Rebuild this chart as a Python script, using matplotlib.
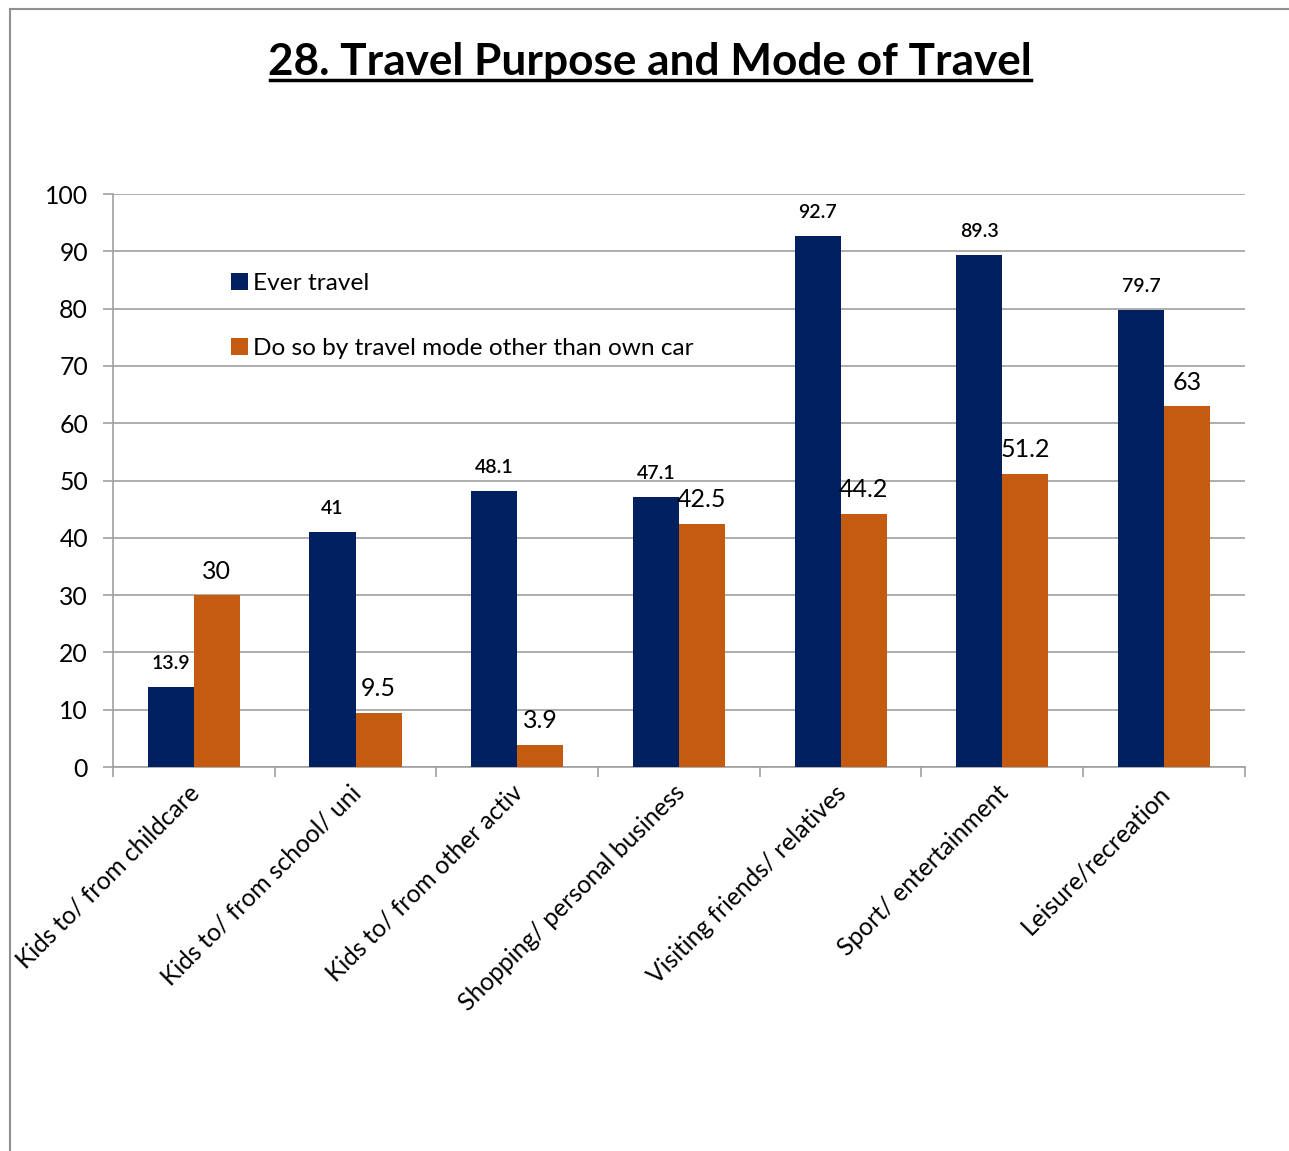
import matplotlib.pyplot as plt
import numpy as np
from matplotlib.lines import Line2D
from matplotlib.transforms import ScaledTranslation

plt.rcParams['font.family'] = ['Lato', 'DejaVu Sans']

categories = ['Kids to/ from childcare', 'Kids to/ from school/ uni', 'Kids to/ from other activ',
              'Shopping/ personal business', 'Visiting friends/ relatives', 'Sport/ entertainment',
              'Leisure/recreation']
ever_travel = [13.9, 41, 48.1, 47.1, 92.7, 89.3, 79.7]
other_mode = [30, 9.5, 3.9, 42.5, 44.2, 51.2, 63]
series_names = ['Ever travel', 'Do so by travel mode other than own car']

navy = '#002060'
orange = '#C55A11'
grid_gray = '#A0A0A0'

fig = plt.figure(figsize=(12.89, 11.51), dpi=100)
ax = fig.add_axes([0.0877, 0.3336, 0.878, 0.4978])

x = np.arange(len(categories))
w = 0.285
b1 = ax.bar(x - w / 2, ever_travel, w, color=navy, label=series_names[0], zorder=3)
b2 = ax.bar(x + w / 2, other_mode, w, color=orange, label=series_names[1], zorder=3)

ax.bar_label(b1, labels=[f'{v:g}' for v in ever_travel], padding=11, fontsize=14, fontweight='semibold')
ax.bar_label(b2, labels=[f'{v:g}' for v in other_mode], padding=9, fontsize=18)

ax.set_xlim(-0.5, len(categories) - 0.5)
ax.set_ylim(0, 100)
ax.set_yticks(range(0, 101, 10))
ax.yaxis.grid(True, color=grid_gray, linewidth=1.2, zorder=0)

ax.set_xticks(np.arange(len(categories) + 1) - 0.5, minor=False)
ax.set_xticklabels([])
ax.set_xticks(x, minor=True)
ax.set_xticklabels(categories, minor=True, rotation=45, ha='right', va='top',
                   rotation_mode='anchor', fontsize=17.7)
ax.tick_params(axis='x', which='minor', length=0, pad=10)
ax.tick_params(axis='x', which='major', length=7, color=grid_gray, width=1.2)
ax.tick_params(axis='y', length=7, color=grid_gray, width=1.2, labelsize=17.8, pad=11)
shift = ScaledTranslation(-6 / 100, 0, fig.dpi_scale_trans)
for lbl in ax.get_xticklabels(minor=True):
    lbl.set_transform(lbl.get_transform() + shift)

for s in ['top', 'right']:
    ax.spines[s].set_visible(False)
for s in ['left', 'bottom']:
    ax.spines[s].set_color(grid_gray)
    ax.spines[s].set_linewidth(1.2)

ax.legend(loc='upper left', bbox_to_anchor=(0.085, 0.9), frameon=False, fontsize=17.6,
          handlelength=0.7, handleheight=0.7, handletextpad=0.2, labelspacing=1.78)

fig.text(0.5045, 0.946, '28. Travel Purpose and Mode of Travel', ha='center', va='center',
         fontsize=31.8, fontweight='bold')
fig.add_artist(Line2D([0.2095, 0.7998], [0.9305, 0.9305], color='black', linewidth=2.5))

# outer frame
fig.add_artist(Line2D([0.0078, 1.0], [0.992, 0.992], color='#909090', linewidth=1.5))
fig.add_artist(Line2D([0.0078, 0.0078], [0.0, 0.992], color='#909090', linewidth=1.5))

fig.savefig('out.png', dpi=100)
